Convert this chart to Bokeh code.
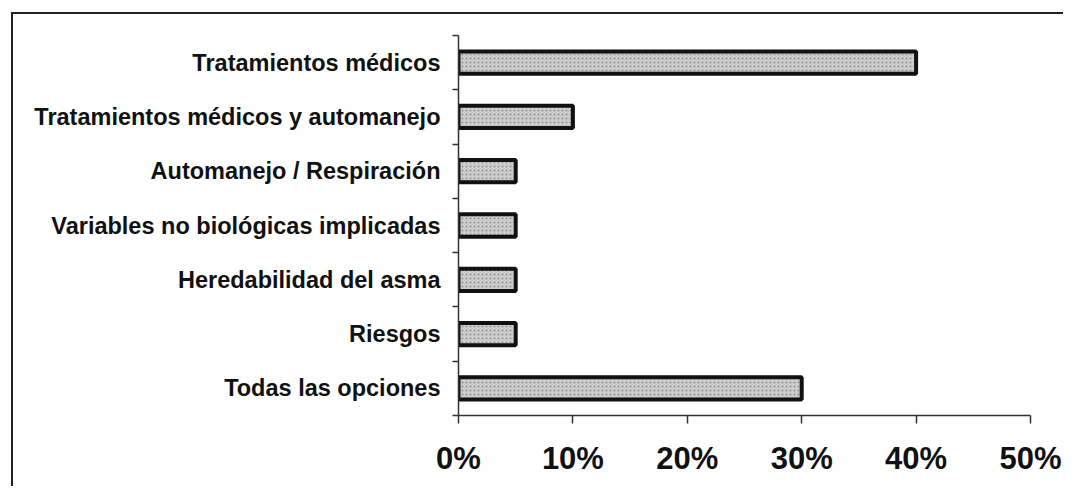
from bokeh.plotting import figure
from bokeh.models import Range1d, FixedTicker
from bokeh.embed import file_html
from bokeh.resources import INLINE

# Data
categories = [
    "Tratamientos médicos",
    "Tratamientos médicos y automanejo",
    "Automanejo / Respiración",
    "Variables no biológicas implicadas",
    "Heredabilidad del asma",
    "Riesgos",
    "Todas las opciones",
]
values = [40, 10, 5, 5, 5, 5, 30]
x_ticks = [0, 10, 20, 30, 40, 50]
x_tick_labels = ["0%", "10%", "20%", "30%", "40%", "50%"]

FONT = "Liberation Sans"

frame_lines = {
    "background-image": "linear-gradient(#222,#222), linear-gradient(#222,#222)",
    "background-size": "2px 100%, 100% 2px",
    "background-position": "11px 12px, 11px 12px",
    "background-repeat": "no-repeat",
    "background-color": "white",
}

p = figure(
    width=1063, height=486,
    output_backend="svg", toolbar_location=None,
    x_range=Range1d(0, 50), y_range=Range1d(7, 0),
    min_border_left=458, min_border_right=33,
    min_border_top=35, min_border_bottom=71,
    background_fill_color="white", border_fill_color=None,
    outline_line_color=None,
    styles=frame_lines,
)

ys = [i + 0.5 for i in range(len(categories))]
p.hbar(y=ys, right=values, left=0, height=0.41,
       fill_color="#cdcdcd", line_color="#111111", line_width=4,
       hatch_pattern="dot", hatch_color="#7a7a7a", hatch_scale=4,
       hatch_weight=1, hatch_alpha=0.7)

p.grid.visible = False

# X axis
xa = p.xaxis[0]
xa.ticker = FixedTicker(ticks=x_ticks)
xa.major_label_overrides = {t: l for t, l in zip(x_ticks, x_tick_labels)}
xa.major_label_text_font = FONT
xa.major_label_text_font_size = "31px"
xa.major_label_text_font_style = "bold"
xa.major_label_text_color = "#111111"
xa.major_label_standoff = 17
xa.major_tick_out = 8
xa.major_tick_in = 0
xa.minor_tick_line_color = None
xa.axis_line_color = "#333333"
xa.axis_line_width = 1.5
xa.major_tick_line_color = "#333333"
xa.major_tick_line_width = 1.5

# Y axis
ya = p.yaxis[0]
ya.ticker = FixedTicker(ticks=ys, minor_ticks=list(range(len(categories) + 1)))
ya.major_label_overrides = {y: c for y, c in zip(ys, categories)}
ya.major_label_text_font = FONT
ya.major_label_text_font_size = "23.5px"
ya.major_label_text_font_style = "bold"
ya.major_label_text_color = "#111111"
ya.major_label_standoff = 12
ya.major_tick_line_color = None
ya.major_tick_out = 0
ya.major_tick_in = 0
ya.minor_tick_out = 6
ya.minor_tick_in = 0
ya.minor_tick_line_color = "#333333"
ya.minor_tick_line_width = 1.5
ya.axis_line_color = "#333333"
ya.axis_line_width = 1.5

open("out.html", "w").write(file_html(p, INLINE))
